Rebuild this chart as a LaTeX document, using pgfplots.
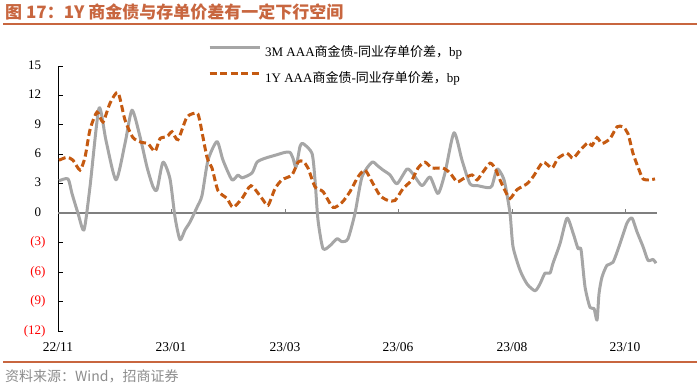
\documentclass[border=0pt]{standalone}
\usepackage{pgfplots}
\pgfplotsset{compat=1.18}
\usepackage{fontspec}
\setmainfont{Liberation Serif}
\newfontfamily\cjk{Noto Sans CJK SC}
\definecolor{titlec}{HTML}{C8663F}
\definecolor{gline}{HTML}{A6A6A6}
\definecolor{oline}{HTML}{C55A11}
\definecolor{zline}{HTML}{7F7F7F}
\definecolor{srcc}{HTML}{8C8C8C}
\begin{document}
\begin{tikzpicture}
\path[use as bounding box] (0,0) rectangle (700pt,387pt);
\node[anchor=west, text=titlec, inner sep=0pt, font={\fontsize{17}{20}\cjk\bfseries}] at (5pt,375pt) {图 17：1Y 商金债与存单价差有一定下行空间};
\draw[titlec, line width=2pt] (3pt,363pt) -- (697pt,363pt);
\draw[titlec, line width=1.5pt] (3pt,25pt) -- (697pt,25pt);
\node[anchor=west, text=srcc, inner sep=0pt, font={\fontsize{14}{16}\cjk}] at (5pt,11pt) {资料来源：Wind，招商证券};
\begin{axis}[
  at={(58pt,56pt)}, anchor=south west,
  scale only axis, width=599pt, height=265pt,
  xmin=58, xmax=657, ymin=-12, ymax=15,
  axis y line*=left, axis x line*=bottom,
  x axis line style={draw=none},
  y axis line style={-, black, line width=0.8pt},
  ytick={-12,-9,-6,-3,0,3,6,9,12,15},
  yticklabels={\textcolor{red}{(12)},\textcolor{red}{(9)},\textcolor{red}{(6)},\textcolor{red}{(3)},0\phantom{)},3\phantom{)},6\phantom{)},9\phantom{)},12\phantom{)},15\phantom{)}},
  xtick={58,171,285,398,512,625},
  xticklabels={22/11,23/01,23/03,23/06,23/08,23/10},
  xtick style={draw=none},
  ytick style={black, line width=0.8pt},
  tick align=inside, major tick length=5pt,
  yticklabel style={font={\fontsize{13}{15}\selectfont}, xshift=-9pt},
  xticklabel style={font={\fontsize{13.5}{15}\selectfont}, yshift=-8pt},
  legend style={at={(axis cs:208,17.1)}, anchor=north west, draw=none, fill=none,
    inner sep=0pt, row sep=13pt, column sep=4pt,
    font={\fontsize{13}{15}\selectfont}, nodes={inner sep=0pt}},
  legend cell align=left,
  legend image code/.code={\draw[#1] (0pt,4pt) -- (50pt,4pt);},
]
\draw[zline, line width=1.5pt] (axis cs:58,0) -- (axis cs:657,0);
\pgfplotsinvokeforeach{171,285,398,512,625}{\draw[zline, line width=1pt] (axis cs:#1,0) -- ++(0pt,4pt);}
\addplot[gline, line width=3pt, smooth, tension=0.4, line join=round] coordinates {
(59,3.3)(68,3.5)(72,2.0)(78,0.0)(84,-1.7)(90,2.7)(99,10.7)(106,7.4)(116,3.4)(125,7.1)
(132,10.5)(140,7.8)(147,4.7)(153,2.7)(157,2.4)(163,5.2)(170,3.5)(175,-0.4)(180,-2.7)(185,-1.7)
(190,-0.9)(197,0.6)(202,1.8)(208,5.4)(217,7.3)(223,5.4)(232,3.4)(238,3.9)(242,3.6)(252,4.1)
(257,5.2)(265,5.6)(275,5.9)(285,6.2)(290,6.2)(293,5.6)(296,4.7)(300,6.8)(303,7.1)(312,6.1)
(315,3.4)(318,-0.7)(323,-3.6)(330,-3.3)(337,-2.6)(342,-2.9)(348,-2.6)(355,0.0)(362,3.7)(372,5.2)
(378,4.8)(383,4.4)(390,3.9)(397,3.0)(407,4.5)(413,4.0)(422,2.8)(430,3.7)(438,2.0)(445,4.1)
(454,8.2)(462,5.4)(470,3.0)(478,2.8)(488,2.6)(492,2.8)(497,4.5)(502,3.9)(505,3.0)(510,0.0)
(513,-3.4)(520,-5.8)(527,-7.2)(535,-7.9)(540,-7.2)(545,-6.1)(550,-6.1)(553,-5.1)(560,-3.1)(567,-0.5)
(573,-2.0)(578,-3.6)(581,-3.7)(585,-7.5)(590,-9.6)(594,-9.7)(597,-10.9)(599,-8.2)(602,-6.5)(607,-5.3)
(613,-5.0)(620,-3.1)(627,-1.0)(632,-0.5)(637,-1.9)(643,-3.4)(648,-4.8)(653,-4.7)(656,-5.1)
};
\addlegendentry{3M AAA{\cjk 商金债}-{\cjk 同业存单价差，}bp}
\addplot[oline, line width=3pt, smooth, tension=0.4, dash pattern=on 7pt off 3.5pt] coordinates {
(59,5.4)(67,5.7)(73,5.4)(80,4.4)(85,5.7)(90,8.5)(97,10.3)(103,9.3)(110,11.2)(118,12.3)
(125,9.5)(133,7.7)(142,7.2)(148,7.1)(155,6.3)(160,7.6)(167,7.8)(172,8.3)(178,7.5)(187,9.8)
(197,10.2)(200,9.3)(207,5.7)(212,4.6)(218,2.3)(227,1.5)(233,0.6)(242,1.5)(251,2.8)(262,1.5)
(268,0.8)(275,2.5)(282,3.4)(292,3.9)(298,5.2)(303,5.3)(308,4.6)(315,2.7)(323,2.2)(333,0.6)
(342,1.1)(350,2.2)(358,3.7)(365,4.4)(372,3.2)(380,1.8)(388,1.3)(395,1.3)(403,2.5)(412,3.4)
(418,4.6)(425,5.2)(432,4.6)(443,4.6)(450,4.1)(457,3.2)(463,3.5)(472,3.9)(477,3.4)(483,4.2)
(490,5.1)(495,4.6)(500,3.4)(505,2.3)(510,1.5)(517,2.4)(527,3.0)(533,3.7)(543,5.2)(552,4.6)
(558,5.6)(567,6.1)(573,5.6)(580,6.4)(588,7.2)(592,6.9)(597,7.7)(602,7.1)(610,7.6)(617,8.8)
(623,8.8)(628,8.1)(633,6.1)(638,4.7)(643,3.5)(650,3.4)(655,3.5)
};
\addlegendentry{1Y AAA{\cjk 商金债}-{\cjk 同业存单价差，}bp}
\end{axis}
\end{tikzpicture}
\end{document}
